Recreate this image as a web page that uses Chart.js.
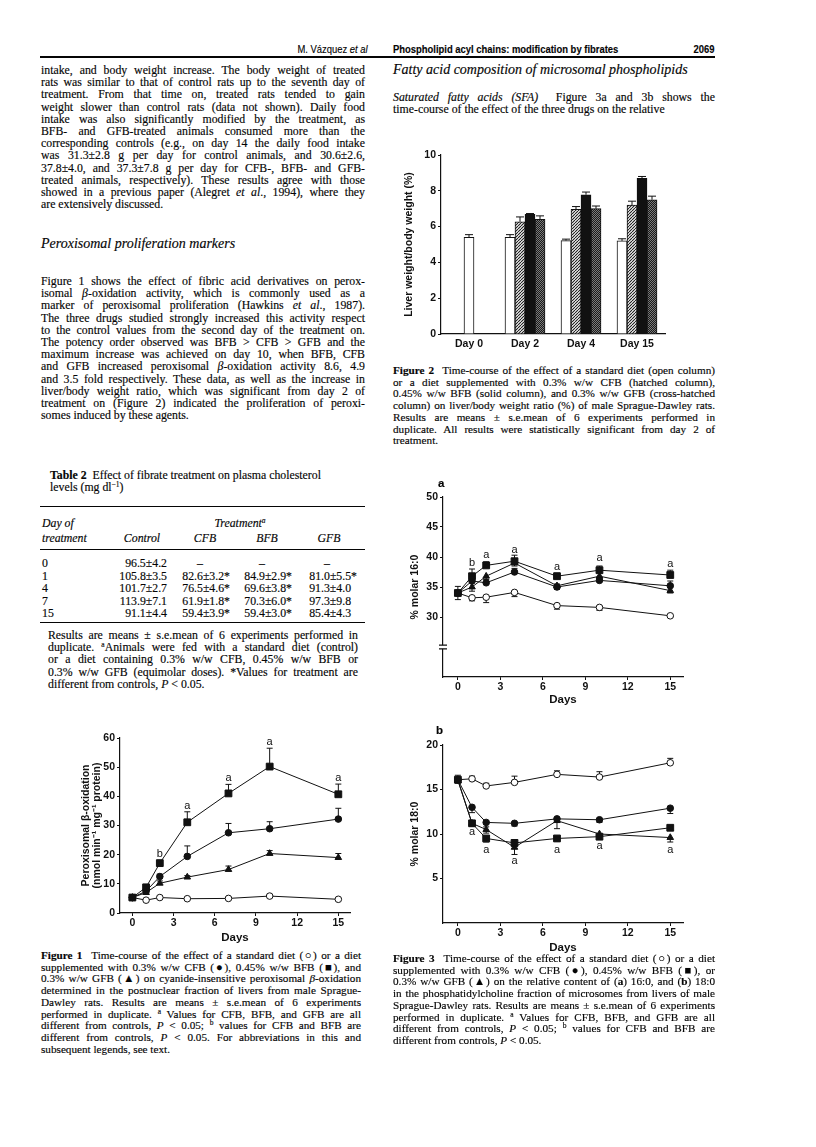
<!DOCTYPE html>
<html>
<head>
<meta charset="utf-8">
<title>Phospholipid acyl chains: modification by fibrates – 2069</title>
<script src="https://cdn.jsdelivr.net/npm/chart.js@4.4.1/dist/chart.umd.min.js"></script>
<style>
  body { margin: 0; background: #fff; }
  #page { position: relative; width: 816px; height: 1147px; overflow: hidden; background: #fff; color: #050505;
          font-family: "Liberation Serif", "Times New Roman", serif; -webkit-text-stroke: 0.15px #050505; }
  .ln { position: absolute; font-size: 11.8px; line-height: 14px; height: 14px; white-space: nowrap; }
  .j { text-align: justify; text-align-last: justify; }
  .cap { font-size: 11.2px; }
  .sans { font-family: "Liberation Sans", Arial, sans-serif; font-size: 11.5px; }
  .hd { font-size: 14px; font-style: italic; }
  .cond { display: inline-block; transform: scaleX(0.82); }
  sup { font-size: 7.5px; line-height: 0; vertical-align: 4px; }
  .rule { position: absolute; background: #050505; }
  canvas { position: absolute; }
</style>
</head>
<body>
<div id="page">
  <canvas id="fig1" width="279" height="222" style="left:81px;top:726px"></canvas>
  <canvas id="fig2" width="271" height="210" style="left:404px;top:145px"></canvas>
  <canvas id="fig3a" width="283" height="222" style="left:410px;top:485px"></canvas>
  <canvas id="fig3b" width="283" height="222" style="left:410px;top:733px"></canvas>
</div>
<script>
// ---- data ----
const days = [0, 1, 2, 4, 7, 10, 15];
const dayTicks = [0, 3, 6, 9, 12, 15];

// Figure 1: peroxisomal beta-oxidation (nmol/min/mg protein)
const fig1Control = [5.3, 4.4, 5.3, 4.9, 5.0, 5.8, 4.7];
const fig1ControlErr = [0.3, 0.3, 0.3, 0.3, 0.3, 0.5, 0.3];
const fig1CFB = [5.3, 7.5, 12.5, 19.4, 27.5, 28.9, 32.2];
const fig1CFBErr = [0, 0.8, 0.8, 3.6, 3.2, 2.4, 3.7];
const fig1BFB = [5.3, 8.8, 17.1, 31.1, 41.0, 50.2, 40.7];
const fig1BFBErr = [0, 0.8, 0.5, 3.6, 3.1, 6.3, 3.5];
const fig1GFB = [5.3, 7.0, 10.2, 12.3, 14.9, 20.4, 19.0];
const fig1GFBErr = [0, 0.5, 0.8, 0.5, 1.2, 1.0, 1.4];
const fig1YTicks = [0, 10, 20, 30, 40, 50, 60];
const fig1SigDays = [2, 4, 7, 10, 15];
const fig1SigText = ['b', 'a', 'a', 'a', 'a'];
const fig1SigY = [20.3, 36.8, 46.2, 58.5, 46.2];

// Figure 2: liver weight / body weight (%)
const fig2Days = ['Day 0', 'Day 2', 'Day 4', 'Day 15'];
const fig2Control = [5.4, 5.4, 5.22, 5.2];
const fig2ControlErr = [0.15, 0.15, 0.08, 0.12];
const fig2CFB = [null, 6.27, 6.97, 7.2];
const fig2CFBErr = [0, 0.27, 0.15, 0.22];
const fig2BFB = [null, 6.68, 7.78, 8.7];
const fig2BFBErr = [0, 0.05, 0.15, 0.1];
const fig2GFB = [null, 6.4, 7.0, 7.5];
const fig2GFBErr = [0, 0.2, 0.15, 0.2];
const fig2YTicks = [0, 2, 4, 6, 8, 10];

// Figure 3a: % molar 16:0
const fig3aControl = [34.0, 33.2, 33.3, 34.1, 31.9, 31.6, 30.2];
const fig3aControlErr = [1.1, 0.5, 0.9, 0.7, 0.6, 0.5, 0.2];
const fig3aCFB = [34.0, 36.0, 35.7, 37.5, 35.0, 36.1, 35.2];
const fig3aCFBErr = [0, 0.6, 0.5, 0.6, 0.5, 0.4, 0.8];
const fig3aBFB = [34.0, 36.8, 38.6, 39.3, 36.8, 37.8, 37.0];
const fig3aBFBErr = [1.1, 1.2, 0.6, 1.0, 0.5, 0.7, 0.8];
const fig3aGFB = [34.0, 35.0, 36.8, 39.0, 35.2, 36.8, 34.4];
const fig3aGFBErr = [0, 0.7, 0.5, 0.5, 0.6, 0.4, 0.4];
const fig3aYTicks = [30, 35, 40, 45, 50];
const fig3aSigDays = [1, 2, 4, 7, 10, 15];
const fig3aSigText = ['b', 'a', 'a', 'a', 'a', 'a'];
const fig3aSigY = [39.0, 40.3, 41.2, 38.3, 39.9, 38.8];

// Figure 3b: % molar 18:0
const fig3bControl = [16.1, 16.2, 15.4, 15.8, 16.7, 16.4, 18.0];
const fig3bControlErr = [0.5, 0.3, 0.3, 0.7, 0.4, 0.6, 0.5];
const fig3bCFB = [16.1, 13.0, 11.3, 11.2, 11.7, 11.6, 12.9];
const fig3bCFBErr = [0, 0.6, 0.5, 0.3, 0.4, 0.3, 0.6];
const fig3bBFB = [16.1, 11.2, 9.5, 9.0, 9.5, 9.7, 10.7];
const fig3bBFBErr = [0.4, 0.3, 0.4, 0.4, 0.3, 0.3, 0.3];
const fig3bGFB = [16.0, 11.2, 10.5, 8.5, 11.5, 10.0, 9.6];
const fig3bGFBErr = [0, 0.3, 0.4, 0.8, 0.9, 0.3, 0.5];
const fig3bYTicks = [5, 10, 15, 20];
const fig3bSigDays = [1, 2, 4, 7, 10, 15];
const fig3bSigText = ['a', 'a', 'a', 'a', 'a', 'a'];
const fig3bSigY = [10.2, 8.2, 7.0, 8.2, 8.6, 8.2];

// ---- page text ----
const page = document.getElementById('page');
function put(html, x, y, w, cls, align) {
  const d = document.createElement('div');
  d.className = 'ln ' + (cls || '');
  d.style.left = x + 'px';
  d.style.top = (y - 7) + 'px';
  if (w) d.style.width = w + 'px';
  if (align) d.style.textAlign = align;
  d.innerHTML = html;
  page.appendChild(d);
  // justified line: squeeze if it is too long, otherwise let it justify
  if (w && d.classList.contains('j')) {
    const nat = d.scrollWidth;
    if (nat > w + 0.5) {
      d.style.width = 'auto';
      d.style.textAlign = 'left';
      d.style.transformOrigin = 'left center';
      d.style.transform = 'scaleX(' + (w / nat) + ')';
    } else {
      d.style.whiteSpace = 'normal';
    }
  }
}
function para(lines, x, y0, w, step, cls) {
  lines.forEach((t, i) => put(t, x, y0 + i * step, w, (cls || '') + (i < lines.length - 1 ? ' j' : '')));
}
function rule(x, y, w, h) {
  const d = document.createElement('div');
  d.className = 'rule';
  d.style.cssText = 'left:' + x + 'px;top:' + y + 'px;width:' + w + 'px;height:' + h + 'px';
  page.appendChild(d);
}

// running head (condensed sans)
put('<span class="cond" style="transform-origin:right center">M. Vázquez <i>et al</i></span>', 40, 49, 328, 'sans', 'right');
put('<span class="cond" style="transform-origin:left center"><b>Phospholipid acyl chains: modification by fibrates</b></span>', 393, 49, 0, 'sans');
put('<span class="cond" style="transform-origin:right center"><b>2069</b></span>', 615, 49, 100, 'sans', 'right');
rule(40, 56, 675, 1.8);

para([
  'intake, and body weight increase. The body weight of treated',
  'rats was similar to that of control rats up to the seventh day of',
  'treatment. From that time on, treated rats tended to gain',
  'weight slower than control rats (data not shown). Daily food',
  'intake was also significantly modified by the treatment, as',
  'BFB- and GFB-treated animals consumed more than the',
  'corresponding controls (e.g., on day 14 the daily food intake',
  'was 31.3±2.8 g per day for control animals, and 30.6±2.6,',
  '37.8±4.0, and 37.3±7.8 g per day for CFB-, BFB- and GFB-',
  'treated animals, respectively). These results agree with those',
  'showed in a previous paper (Alegret <i>et al</i>., 1994), where they',
  'are extensively discussed.'
], 41, 70, 324, 12.2);
put('Peroxisomal proliferation markers', 41, 244, 0, 'hd');
para([
  'Figure 1 shows the effect of fibric acid derivatives on perox-',
  'isomal <i>β</i>-oxidation activity, which is commonly used as a',
  'marker of peroxisomal proliferation (Hawkins <i>et al</i>., 1987).',
  'The three drugs studied strongly increased this activity respect',
  'to the control values from the second day of the treatment on.',
  'The potency order observed was BFB &gt; CFB &gt; GFB and the',
  'maximum increase was achieved on day 10, when BFB, CFB',
  'and GFB increased peroxisomal <i>β</i>-oxidation activity 8.6, 4.9',
  'and 3.5 fold respectively. These data, as well as the increase in',
  'liver/body weight ratio, which was significant from day 2 of',
  'treatment on (Figure 2) indicated the proliferation of peroxi-',
  'somes induced by these agents.'
], 41, 281, 324, 12.2);

// Table 2
put('<b>Table 2</b>&nbsp;&nbsp;Effect of fibrate treatment on plasma cholesterol', 50, 475, 0, '');
put('levels (mg dl<sup>−1</sup>)', 50, 487, 0, '');
rule(40, 506, 325, 1.2);
put('<i>Day of</i>', 42, 523, 0, '');
put('<i>Treatment<sup>a</sup></i>', 190, 523, 100, '', 'center');
put('<i>treatment</i>', 42, 538, 0, '');
put('<i>Control</i>', 112, 538, 60, '', 'center');
put('<i>CFB</i>', 180, 538, 50, '', 'center');
put('<i>BFB</i>', 242, 538, 50, '', 'center');
put('<i>GFB</i>', 304, 538, 50, '', 'center');
rule(40, 549, 325, 0.8);
const hid = '<span style="visibility:hidden">*</span>';
const tableRows = [
  ['0', '96.5±4.2', '–', '–', '–'],
  ['1', '105.8±3.5', '82.6±3.2*', '84.9±2.9*', '81.0±5.5*'],
  ['4', '101.7±2.7', '76.5±4.6*', '69.6±3.8*', '91.3±4.0' + hid],
  ['7', '113.9±7.1', '61.9±1.8*', '70.3±6.0*', '97.3±9.8' + hid],
  ['15', '91.1±4.4', '59.4±3.9*', '59.4±3.0*', '85.4±4.3' + hid]
];
tableRows.forEach((r, i) => {
  const y = 563 + i * 12.5;
  put(r[0], 42, y, 0, '');
  put(r[1], 97, y, 70, '', 'right');
  [[r[2], 230], [r[3], 292], [r[4], 357]].forEach(([t, right]) => {
    if (t === '–') put(t, right - 55, y, 50, '', 'center');
    else put(t, right - 75, y, 75, '', 'right');
  });
});
rule(40, 622, 325, 0.8);
para([
  'Results are means ± s.e.mean of 6 experiments performed in',
  'duplicate. <sup>a</sup>Animals were fed with a standard diet (control)',
  'or a diet containing 0.3% w/w CFB, 0.45% w/w BFB or',
  '0.3% w/w GFB (equimolar doses). *Values for treatment are',
  'different from controls, <i>P</i> &lt; 0.05.'
], 48, 635, 310, 12.2);

// Figure 1 caption
para([
  '<b>Figure 1</b>&nbsp;&nbsp;Time-course of the effect of a standard diet (○) or a diet',
  'supplemented with 0.3% w/w CFB (●), 0.45% w/w BFB (■), and',
  '0.3% w/w GFB (▲) on cyanide-insensitive peroxisomal <i>β</i>-oxidation',
  'determined in the postnuclear fraction of livers from male Sprague-',
  'Dawley rats. Results are means ± s.e.mean of 6 experiments',
  'performed in duplicate. <sup>a</sup> Values for CFB, BFB, and GFB are all',
  'different from controls, <i>P</i> &lt; 0.05; <sup>b</sup> values for CFB and BFB are',
  'different from controls, <i>P</i> &lt; 0.05. For abbreviations in this and',
  'subsequent legends, see text.'
], 41, 955, 320, 11.7, 'cap');

// right column
put('Fatty acid composition of microsomal phospholipids', 393, 70, 0, 'hd');
para([
  '<i>Saturated fatty acids (SFA)</i>&nbsp;&nbsp;Figure 3a and 3b shows the',
  'time-course of the effect of the three drugs on the relative'
], 393, 97, 322, 12.2);
para([
  '<b>Figure 2</b>&nbsp;&nbsp;Time-course of the effect of a standard diet (open column)',
  'or a diet supplemented with 0.3% w/w CFB (hatched column),',
  '0.45% w/w BFB (solid column), and 0.3% w/w GFB (cross-hatched',
  'column) on liver/body weight ratio (%) of male Sprague-Dawley rats.',
  'Results are means ± s.e.mean of 6 experiments performed in',
  'duplicate. All results were statistically significant from day 2 of',
  'treatment.'
], 393, 370, 322, 11.7, 'cap');
put('<b>a</b>', 438, 483, 0, 'sans');
put('<b>b</b>', 436, 730, 0, 'sans');
para([
  '<b>Figure 3</b>&nbsp;&nbsp;Time-course of the effect of a standard diet (○) or a diet',
  'supplemented with 0.3% w/w CFB (●), 0.45% w/w BFB (■), or',
  '0.3% w/w GFB (▲) on the relative content of (<b>a</b>) 16:0, and (<b>b</b>) 18:0',
  'in the phosphatidylcholine fraction of microsomes from livers of male',
  'Sprague-Dawley rats. Results are means ± s.e.mean of 6 experiments',
  'performed in duplicate. <sup>a</sup> Values for CFB, BFB, and GFB are all',
  'different from controls, <i>P</i> &lt; 0.05; <sup>b</sup> values for CFB and BFB are',
  'different from controls, <i>P</i> &lt; 0.05.'
], 393, 958, 322, 11.7, 'cap');

// ---- chart helpers ----
const ink = '#111';
const sansFam = '"Liberation Sans", Arial, sans-serif';
const tickFont = {family: sansFam, size: 10.5, weight: 'bold'};
const titleFont = {family: sansFam, size: 11.5, weight: 'bold', lineHeight: 1.0};
const yTitleFont = {family: sansFam, size: 10.5, weight: 'bold', lineHeight: 1.05};

// error bars (one-sided, capped) drawn through the y scale
const errorBars = {
  id: 'errorBars',
  beforeDatasetsDraw(chart) {
    const ctx = chart.ctx, ys = chart.scales.y;
    chart.data.datasets.forEach((ds, i) => {
      if (!ds.errors) return;
      const meta = chart.getDatasetMeta(i);
      const cap = ds.errCap || 3;
      ctx.save();
      ctx.strokeStyle = ink;
      ctx.lineWidth = 1;
      meta.data.forEach((el, j) => {
        const e = ds.errors[j];
        const raw = ds.data[j];
        const v = raw !== null && typeof raw === 'object' ? raw.y : raw;
        if (!e || v === null || v === undefined) return;
        const y0 = ys.getPixelForValue(v);
        const y1 = ys.getPixelForValue(v + (ds.errDir || 1) * e);
        ctx.beginPath();
        ctx.moveTo(el.x, y0); ctx.lineTo(el.x, y1);
        ctx.moveTo(el.x - cap, y1); ctx.lineTo(el.x + cap, y1);
        ctx.stroke();
      });
      ctx.restore();
    });
  }
};

// significance letters placed at (day, value)
const sigLabels = {
  id: 'sigLabels',
  afterDatasetsDraw(chart, args, opts) {
    if (!opts.days) return;
    const {ctx, scales: {x, y}} = chart;
    ctx.save();
    ctx.font = '11px ' + sansFam;
    ctx.fillStyle = ink;
    ctx.textAlign = 'center';
    ctx.textBaseline = 'middle';
    opts.days.forEach((d, i) => ctx.fillText(opts.text[i], x.getPixelForValue(d), y.getPixelForValue(opts.y[i])));
    ctx.restore();
  }
};

// broken y axis marks
const axisBreak = {
  id: 'axisBreak',
  afterDraw(chart, args, opts) {
    if (opts.at === undefined) return;
    const {ctx, scales: {x, y}} = chart;
    const ax = x.left;
    const y1 = y.getPixelForValue(opts.at + 0.3), y2 = y.getPixelForValue(opts.at - 0.3);
    ctx.save();
    ctx.fillStyle = '#fff';
    ctx.fillRect(ax - 2, y1, 4, y2 - y1);
    ctx.strokeStyle = ink;
    ctx.lineWidth = 1.2;
    ctx.beginPath();
    ctx.moveTo(ax - 4, y1); ctx.lineTo(ax + 4, y1);
    ctx.moveTo(ax - 4, y2); ctx.lineTo(ax + 4, y2);
    ctx.stroke();
    ctx.restore();
  }
};
Chart.register(errorBars, sigLabels, axisBreak);

function fitBox(w, h) {
  return s => {
    if (w !== null) s.width = w;
    if (h !== null) s.height = h;
    s.paddingTop = s.paddingBottom = s.paddingLeft = s.paddingRight = 0;
  };
}
function daysAxis(min, max, h, pb) {
  return {
    type: 'linear', min: min, max: max,
    afterBuildTicks: s => { s.ticks = dayTicks.map(v => ({value: v})); },
    afterFit: fitBox(null, h),
    grid: {drawOnChartArea: false, tickLength: 3, color: ink},
    border: {color: ink, width: 1.2},
    ticks: {color: ink, font: tickFont, padding: 1, maxRotation: 0, autoSkip: false},
    title: {display: true, text: 'Days', color: ink, font: titleFont, padding: {top: 0, bottom: pb}}
  };
}
function valueAxis(min, max, ticks, w, title) {
  return {
    type: 'linear', min: min, max: max,
    afterBuildTicks: s => { s.ticks = ticks.map(v => ({value: v})); },
    afterFit: fitBox(w, null),
    grid: {drawOnChartArea: false, tickLength: 3, color: ink},
    border: {color: ink, width: 1.2},
    ticks: {color: ink, font: tickFont, padding: 2, autoSkip: false},
    title: {display: true, text: title, color: ink, font: yTitleFont, padding: {top: 0, bottom: 0}}
  };
}
const looks = {
  ctrl: {pointStyle: 'circle', pointRadius: 3.3, pointBackgroundColor: '#fff'},
  cfb: {pointStyle: 'circle', pointRadius: 3.3, pointBackgroundColor: ink},
  bfb: {pointStyle: 'rect', pointRadius: 4.8, pointBackgroundColor: ink},
  gfb: {pointStyle: 'triangle', pointRadius: 3.8, pointBackgroundColor: ink}
};
function series(label, values, errs, dir, look) {
  return Object.assign({
    label: label,
    data: days.map((d, i) => ({x: d, y: values[i]})),
    errors: errs, errDir: dir,
    borderColor: ink, borderWidth: 1, pointBorderColor: ink, pointBorderWidth: 1,
    tension: 0, fill: false
  }, look);
}
function lineChart(id, datasets, xAxis, yAxis, pad, plugins) {
  return new Chart(document.getElementById(id), {
    type: 'line',
    data: {datasets: datasets},
    options: {
      responsive: false, animation: false, events: [],
      layout: {padding: pad},
      scales: {x: xAxis, y: yAxis},
      plugins: Object.assign({legend: {display: false}, tooltip: {enabled: false}}, plugins)
    }
  });
}

// ---- Figure 1 ----
lineChart('fig1', [
  series('BFB', fig1BFB, fig1BFBErr, 1, looks.bfb),
  series('CFB', fig1CFB, fig1CFBErr, 1, looks.cfb),
  series('GFB', fig1GFB, fig1GFBErr, 1, looks.gfb),
  series('Control', fig1Control, fig1ControlErr, 1, looks.ctrl)
], daysAxis(-0.9, 15.85, 35, 4),
   valueAxis(0, 60, fig1YTicks, 39, ['Peroxisomal β-oxidation', '(nmol min⁻¹ mg⁻¹ protein)']),
   {left: 0, top: 12, right: 10, bottom: 0},
   {sigLabels: {days: fig1SigDays, text: fig1SigText, y: fig1SigY}});

// ---- Figure 3a ----
lineChart('fig3a', [
  series('BFB', fig3aBFB, fig3aBFBErr, 1, looks.bfb),
  series('CFB', fig3aCFB, fig3aCFBErr, 1, looks.cfb),
  series('GFB', fig3aGFB, fig3aGFBErr, -1, looks.gfb),
  series('Control', fig3aControl, fig3aControlErr, -1, looks.ctrl)
], daysAxis(-1.05, 15.9, 30, 1),
   valueAxis(20, 50, fig3aYTicks, 33, '% molar 16:0'),
   {left: 0, top: 12, right: 10, bottom: 0},
   {sigLabels: {days: fig3aSigDays, text: fig3aSigText, y: fig3aSigY}, axisBreak: {at: 25}});

// ---- Figure 3b ----
lineChart('fig3b', [
  series('BFB', fig3bBFB, fig3bBFBErr, -1, looks.bfb),
  series('CFB', fig3bCFB, fig3bCFBErr, -1, looks.cfb),
  series('GFB', fig3bGFB, fig3bGFBErr, -1, looks.gfb),
  series('Control', fig3bControl, fig3bControlErr, 1, looks.ctrl)
], daysAxis(-1.05, 15.9, 32, 1),
   valueAxis(0, 20, fig3bYTicks, 33, '% molar 18:0'),
   {left: 0, top: 12, right: 10, bottom: 0},
   {sigLabels: {days: fig3bSigDays, text: fig3bSigText, y: fig3bSigY}});

// ---- Figure 2 (bars with fill patterns) ----
const c2 = document.getElementById('fig2').getContext('2d');
function pattern(n, draw) {
  const c = document.createElement('canvas');
  c.width = c.height = n;
  draw(c.getContext('2d'), n);
  return c2.createPattern(c, 'repeat');
}
const hatched = pattern(3, (g, n) => {
  g.fillStyle = '#fff'; g.fillRect(0, 0, n, n);
  g.strokeStyle = '#1a1a1a'; g.lineWidth = 1.1;
  g.beginPath();
  for (let k = -n; k <= n; k += n) { g.moveTo(k, n); g.lineTo(k + n, 0); }
  g.stroke();
});
const crossHatched = pattern(2, g => {
  g.fillStyle = '#7a7a7a'; g.fillRect(0, 0, 2, 2);
  g.fillStyle = '#1a1a1a'; g.fillRect(0, 0, 1, 1); g.fillRect(1, 1, 1, 1);
});

new Chart(c2, {
  type: 'bar',
  data: {
    labels: fig2Days,
    datasets: [
      {label: 'Control', data: fig2Control, errors: fig2ControlErr, backgroundColor: '#fff'},
      {label: 'CFB', data: fig2CFB, errors: fig2CFBErr, backgroundColor: hatched},
      {label: 'BFB', data: fig2BFB, errors: fig2BFBErr, backgroundColor: ink},
      {label: 'GFB', data: fig2GFB, errors: fig2GFBErr, backgroundColor: crossHatched}
    ].map(d => Object.assign(d, {errDir: 1, errCap: 4, borderColor: ink, borderWidth: 1, barThickness: 10, skipNull: true}))
  },
  options: {
    responsive: false, animation: false, events: [],
    layout: {padding: {left: 0, top: 10, right: 10, bottom: 0}},
    scales: {
      x: {
        type: 'category', offset: true,
        afterFit: fitBox(null, 21),
        grid: {display: true, drawOnChartArea: false, drawTicks: false},
        border: {color: ink, width: 1.2},
        ticks: {color: ink, font: tickFont, padding: 4}
      },
      y: valueAxis(0, 10, fig2YTicks, 37, 'Liver weight/body weight (%)')
    },
    plugins: {legend: {display: false}, tooltip: {enabled: false}}
  }
});
</script>
</body>
</html>
